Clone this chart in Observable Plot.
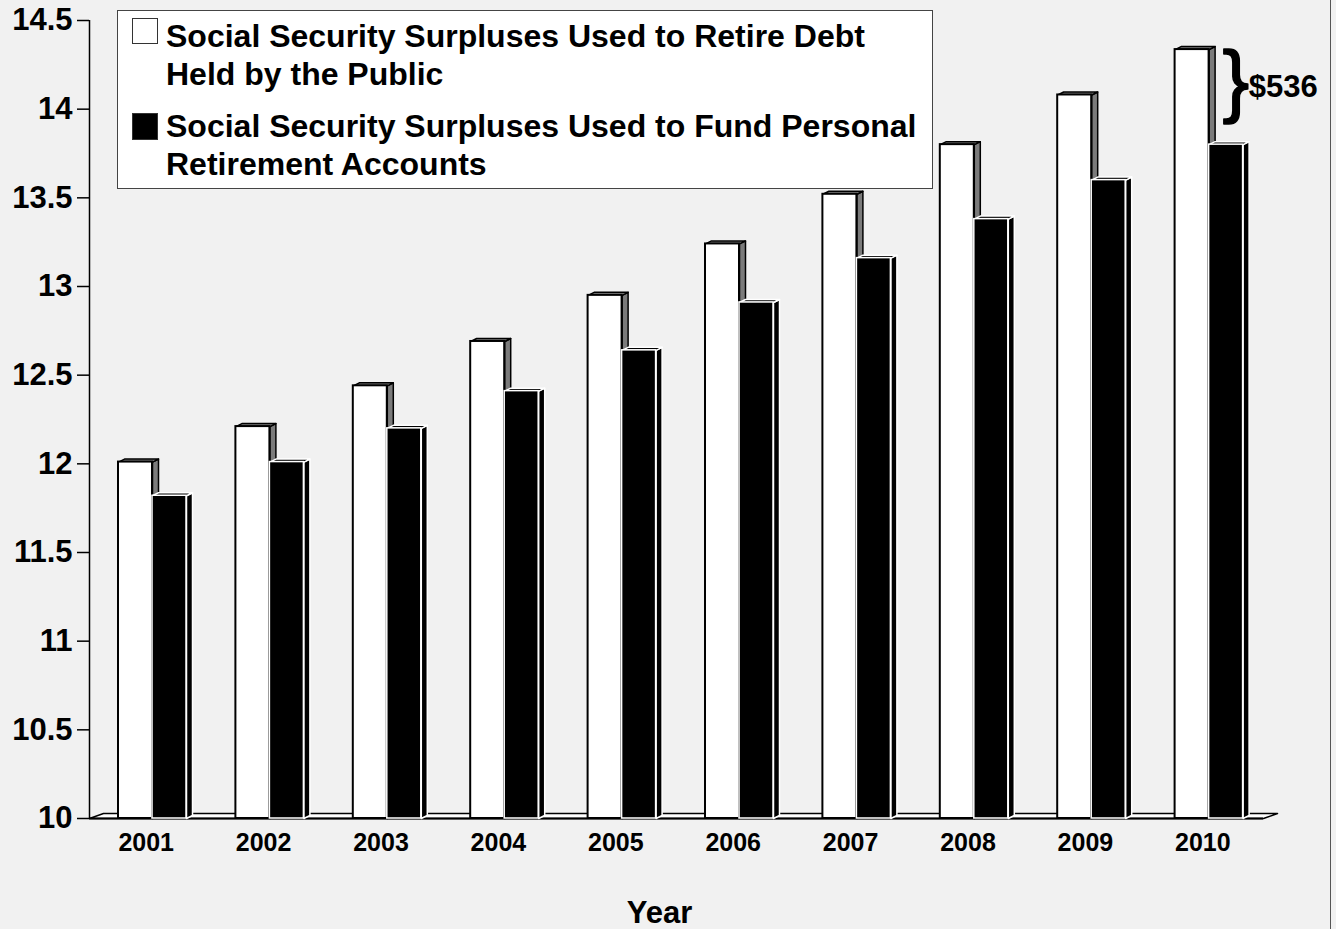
<!DOCTYPE html>
<html><head><meta charset="utf-8">
<script src="https://cdn.jsdelivr.net/npm/d3@7"></script>
<script src="https://cdn.jsdelivr.net/npm/@observablehq/plot@0.6"></script>
<style>
html,body{margin:0;padding:0;background:#f1f1f1;}
#wrap{position:relative;width:1336px;height:929px;overflow:hidden;font-family:"Liberation Sans",Arial,sans-serif;font-weight:bold;color:#000;}
#frame{position:absolute;left:1330px;top:0;width:1px;height:929px;background:#555;}
#legend{position:absolute;left:117px;top:10px;width:814px;height:177px;background:#fff;border:1px solid #444;}
#legend .sw{position:absolute;left:14px;width:26px;height:26px;box-sizing:border-box;}
#legend .t{position:absolute;left:48px;font-size:32px;line-height:32px;white-space:nowrap;}
</style>
</head><body>
<div id="wrap"><div id="chart"></div><div id="legend"></div><div id="frame"></div></div>
<script>
// ---- data ----
const years = [2001, 2002, 2003, 2004, 2005, 2006, 2007, 2008, 2009, 2010];
const retireDebt = [12.01, 12.21, 12.44, 12.69, 12.95, 13.24, 13.52, 13.80, 14.08, 14.336];
const fundAccounts = [11.82, 12.01, 12.20, 12.41, 12.64, 12.91, 13.16, 13.38, 13.60, 13.80];
const yTicks = [10, 10.5, 11, 11.5, 12, 12.5, 13, 13.5, 14, 14.5];
const seriesLabels = [
  ["Social Security Surpluses Used to Retire Debt", "Held by the Public"],
  ["Social Security Surpluses Used to Fund Personal", "Retirement Accounts"]
];
const gapLabel = "$536";
const axisTitle = "Year";

// ---- layout ----
const W = 1336, H = 929, mL = 89, mR = 73, mT = 20, mB = 111;
const xDomain = [years[0] - 0.5, years[years.length - 1] + 0.5];
const yDomain = [10, 14.5];
const kx = (xDomain[1] - xDomain[0]) / (W - mL - mR); // data units per px
const ky = (yDomain[1] - yDomain[0]) / (H - mT - mB);
const DX = 6 * kx, DY = 3 * ky;       // bar depth
const FDX = 14 * kx, FDY = 5 * ky;    // floor depth
const BW = 34 * kx;                   // bar width
const OFF = 4.3 * kx;                 // pair offset from year center

const whiteRows = years.map((yr, i) => ({id: "w" + yr, x1: yr + OFF - BW, x2: yr + OFF, v: retireDebt[i]}));
const blackRows = years.map((yr, i) => ({id: "b" + yr, x1: yr + OFF, x2: yr + OFF + BW, v: fundAccounts[i]}));

function faces(rows) {
  const pts = [];
  for (const r of rows) {
    [[r.x2, 10], [r.x2 + DX, 10 + DY], [r.x2 + DX, r.v + DY], [r.x2, r.v]]
      .forEach(([x, y]) => pts.push({x, y, id: r.id + "s"}));
    [[r.x1, r.v], [r.x1 + DX, r.v + DY], [r.x2 + DX, r.v + DY], [r.x2, r.v]]
      .forEach(([x, y]) => pts.push({x, y, id: r.id + "t"}));
  }
  return pts;
}
const floorPts = [[xDomain[0], 10], [xDomain[0] + FDX, 10 + FDY], [xDomain[1] + FDX, 10 + FDY], [xDomain[1], 10]]
  .map(([x, y]) => ({x, y}));

const lastW = retireDebt[retireDebt.length - 1];
const braceMid = lastW - 0.21;
const lastYear = years[years.length - 1];

const chart = Plot.plot({
  width: W, height: H,
  marginLeft: mL, marginRight: mR, marginTop: mT, marginBottom: mB,
  x: {type: "linear", domain: xDomain, label: null},
  y: {domain: yDomain, label: null},
  style: {fontFamily: "'Liberation Sans', Arial, sans-serif", fontWeight: "bold", background: "transparent", color: "#000", overflow: "visible"},
  marks: [
    Plot.line(floorPts, {x: "x", y: "y", fill: "#fff", stroke: "#000", strokeWidth: 1.5, curve: "linear-closed"}),
    Plot.ruleY([10], {x1: xDomain[0], x2: xDomain[1], stroke: "#000", strokeWidth: 2}),
    Plot.ruleX([xDomain[0]], {stroke: "#000", strokeWidth: 1.5}),
    Plot.line(faces(whiteRows), {x: "x", y: "y", z: "id", fill: "#7b7b7b", stroke: "#000", strokeWidth: 1.5, curve: "linear-closed"}),
    Plot.rect(whiteRows, {x1: "x1", x2: "x2", y1: () => 10, y2: "v", fill: "#fff", stroke: "#000", strokeWidth: 2}),
    Plot.line(faces(blackRows), {x: "x", y: "y", z: "id", fill: "#000", stroke: "#fff", strokeWidth: 1.5, curve: "linear-closed"}),
    Plot.rect(blackRows, {x1: "x1", x2: "x2", y1: () => 10, y2: "v", fill: "#000", stroke: "#fff", strokeWidth: 1.5}),
    Plot.axisY({ticks: yTicks, tickFormat: d => String(d), tickSize: 12, tickPadding: 5, fontSize: 31, strokeWidth: 1.5, label: null}),
    Plot.axisX({ticks: years, tickFormat: d => String(d), tickSize: 0, tickPadding: 15, fontSize: 25, dx: -2, label: null}),
    Plot.text([axisTitle], {frameAnchor: "bottom", dy: 95, dx: -17, fontSize: 31, lineAnchor: "middle", text: d => d}),
    Plot.text(["}"], {x: () => lastYear + 31 * kx, y: () => braceMid, text: d => d, fontSize: 80, fontWeight: "normal", fill: "#000", stroke: "#000", strokeWidth: 1.5, lineAnchor: "middle", dy: -5}),
    Plot.text([gapLabel], {x: () => lastYear + 44 * kx, y: () => braceMid, text: d => d, fontSize: 31, textAnchor: "start", lineAnchor: "middle"})
  ]
});
document.getElementById("chart").appendChild(chart);

// ---- legend ----
const legend = document.getElementById("legend");
const swatchTops = [7, 102];
const lineTops = [[9, 47], [99, 137]];
seriesLabels.forEach((lines, i) => {
  const sw = document.createElement("div");
  sw.className = "sw";
  sw.style.top = swatchTops[i] + "px";
  sw.style.background = i === 0 ? "#fff" : "#000";
  sw.style.border = "1px solid #333";
  if (i === 1) sw.style.height = "27px";
  legend.appendChild(sw);
  lines.forEach((txt, j) => {
    const t = document.createElement("div");
    t.className = "t";
    t.style.top = lineTops[i][j] + "px";
    t.textContent = txt;
    legend.appendChild(t);
  });
});
</script>
</body></html>
